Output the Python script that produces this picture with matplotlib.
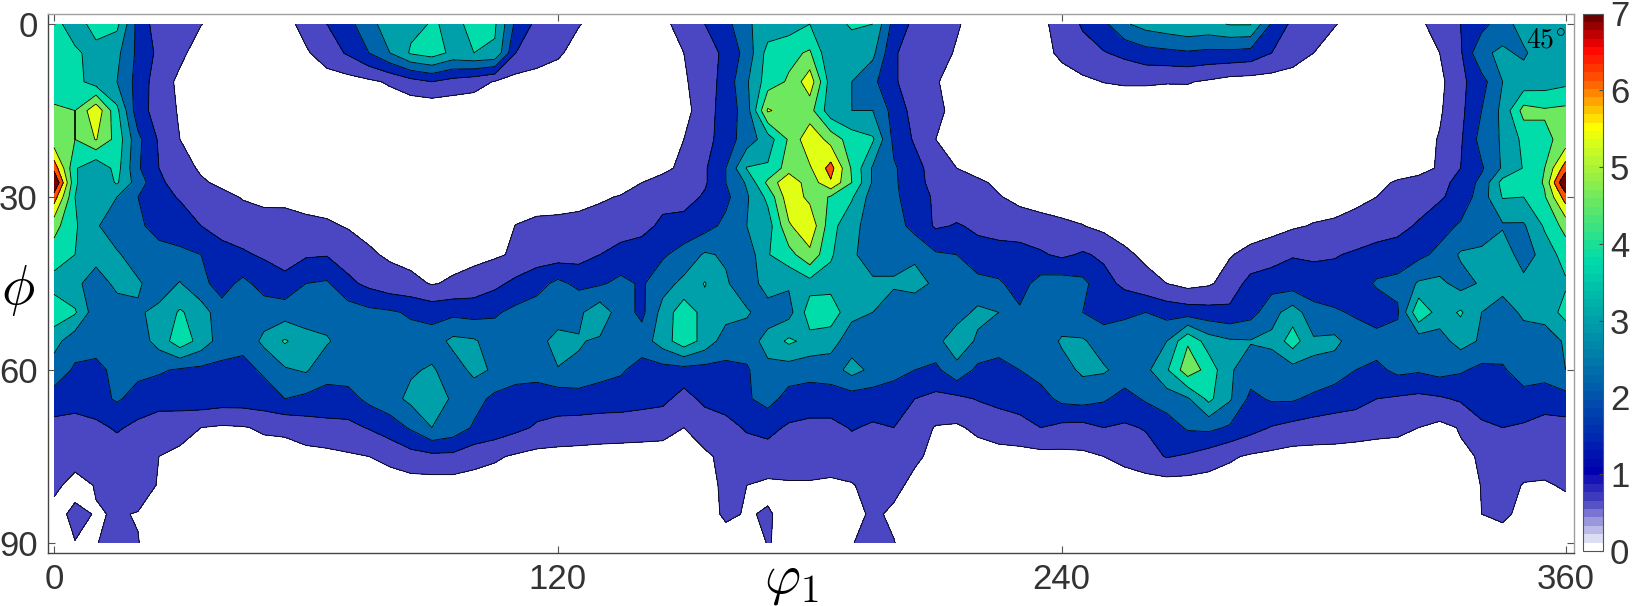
import numpy as np
import matplotlib
matplotlib.use('Agg')
import matplotlib.pyplot as plt
from matplotlib.cm import ScalarMappable
from matplotlib.colors import LinearSegmentedColormap, Normalize

# ODF section, values on a 5 degree grid
phi1 = list(range(0, 365, 5))
phi = [0, 5, 10, 15, 20, 25, 27.5, 30, 35, 40, 45, 50, 55, 60, 65, 70, 75, 80, 85, 90]

phi_00 = [4.2, 3.2, 4.3, 4.0, 1.9, 1.0, 0.85, 0.62, 0.4, 0.3, 0.3, 0.3,
          0.9, 1.4, 1.9, 2.8, 3.3, 3.6, 3.85, 3.7, 3.9, 3.9, 2.0, 1.2,
          0.9, 0.63, 0.4, 0.3, 0.3, 0.45, 0.85, 1.4, 1.9, 2.9, 3.3, 3.4,
          3.8, 3.5, 3.9, 3.8, 1.9, 1.2, 0.9, 0.65, 0.4, 0.3, 0.3, 0.45,
          0.85, 1.5, 2.0, 2.9, 3.3, 3.5, 3.7, 3.6, 3.85, 3.85, 2.1, 1.2,
          0.9, 0.63, 0.4, 0.3, 0.3, 0.45, 0.9, 1.4, 1.9, 2.7, 3.3, 3.4,
          3.7]
phi_05 = [4.0, 4.0, 3.4, 3.2, 2.0, 1.2, 0.75, 0.3, 0.25, 0.25, 0.25, 0.3,
          0.5, 1.0, 1.5, 2.2, 3.0, 3.9, 4.2, 3.6, 3.8, 3.7, 1.4, 1.0,
          0.7, 0.35, 0.25, 0.25, 0.25, 0.3, 0.6, 1.0, 1.6, 2.5, 4.1, 4.4,
          4.7, 3.1, 3.4, 3.2, 1.5, 1.0, 0.8, 0.55, 0.3, 0.25, 0.25, 0.35,
          0.75, 1.1, 1.35, 1.6, 1.9, 2.0, 2.1, 2.0, 2.0, 1.9, 1.4, 0.95,
          0.6, 0.35, 0.25, 0.25, 0.25, 0.3, 0.6, 1.3, 2.9, 3.1, 2.9, 3.4,
          3.5]
phi_10 = [3.9, 4.1, 3.4, 3.0, 1.9, 0.95, 0.45, 0.25, 0.25, 0.25, 0.25, 0.25,
          0.25, 0.25, 0.3, 0.45, 0.7, 1.1, 1.4, 1.1, 0.9, 0.55, 0.3, 0.25,
          0.25, 0.25, 0.25, 0.25, 0.25, 0.25, 0.5, 1.0, 1.7, 2.9, 4.2, 4.7,
          5.9, 3.4, 3.0, 2.4, 1.5, 1.0, 0.65, 0.35, 0.25, 0.25, 0.25, 0.25,
          0.3, 0.45, 0.62, 0.7, 0.7, 0.65, 0.65, 0.5, 0.3, 0.25, 0.25, 0.25,
          0.25, 0.25, 0.25, 0.25, 0.25, 0.25, 0.4, 1.2, 1.9, 3.0, 3.3, 3.4,
          3.6]
phi_15 = [4.8, 4.6, 6.0, 4.0, 1.7, 1.1, 0.5, 0.25, 0.2, 0.2, 0.2, 0.2,
          0.2, 0.2, 0.2, 0.2, 0.1, 0.05, 0.0, 0.05, 0.1, 0.2, 0.2, 0.2,
          0.2, 0.2, 0.2, 0.2, 0.2, 0.2, 0.3, 1.1, 1.7, 2.6, 5.5, 5.0,
          4.9, 3.3, 3.0, 3.0, 1.9, 1.1, 0.75, 0.4, 0.2, 0.2, 0.2, 0.2,
          0.2, 0.1, 0.05, 0.0, 0.0, 0.0, 0.1, 0.1, 0.2, 0.2, 0.2, 0.2,
          0.2, 0.2, 0.2, 0.2, 0.2, 0.2, 0.5, 1.2, 2.2, 3.2, 4.9, 4.7,
          4.8]
phi_20 = [4.9, 4.6, 5.45, 4.3, 2.4, 1.3, 0.6, 0.3, 0.2, 0.2, 0.2, 0.2,
          0.2, 0.2, 0.2, 0.2, 0.2, 0.2, 0.2, 0.2, 0.2, 0.2, 0.2, 0.2,
          0.2, 0.2, 0.2, 0.2, 0.2, 0.3, 0.6, 1.1, 1.8, 2.6, 3.4, 4.7,
          6.0, 5.1, 4.2, 3.9, 2.0, 1.3, 0.6, 0.3, 0.2, 0.2, 0.2, 0.2,
          0.2, 0.2, 0.2, 0.2, 0.2, 0.2, 0.2, 0.2, 0.2, 0.2, 0.2, 0.2,
          0.2, 0.2, 0.2, 0.2, 0.2, 0.3, 0.65, 1.3, 2.5, 3.1, 4.0, 4.4,
          4.9]
phi_25 = [6.7, 3.9, 3.1, 4.1, 2.3, 1.4, 0.9, 0.5, 0.25, 0.2, 0.2, 0.2,
          0.2, 0.2, 0.2, 0.2, 0.2, 0.2, 0.2, 0.2, 0.2, 0.2, 0.2, 0.2,
          0.2, 0.2, 0.2, 0.2, 0.25, 0.4, 0.8, 1.3, 2.2, 3.85, 3.9, 5.0,
          5.3, 6.5, 4.5, 2.9, 2.3, 1.7, 1.0, 0.6, 0.3, 0.2, 0.2, 0.2,
          0.2, 0.2, 0.2, 0.2, 0.2, 0.2, 0.2, 0.2, 0.2, 0.2, 0.2, 0.2,
          0.2, 0.2, 0.2, 0.2, 0.2, 0.3, 0.7, 1.4, 2.1, 3.1, 3.85, 4.6,
          6.6]
phi_275 = [8.0, 3.9, 3.1, 3.9, 2.6, 1.6, 0.95, 0.7, 0.45, 0.3, 0.2, 0.2,
           0.2, 0.2, 0.2, 0.2, 0.2, 0.2, 0.2, 0.2, 0.2, 0.2, 0.2, 0.2,
           0.2, 0.2, 0.2, 0.3, 0.6, 0.9, 1.0, 1.3, 2.2, 3.1, 4.8, 6.1,
           4.9, 6.1, 4.6, 2.9, 2.3, 1.8, 1.0, 0.8, 0.75, 0.45, 0.3, 0.2,
           0.2, 0.2, 0.2, 0.2, 0.2, 0.2, 0.2, 0.2, 0.2, 0.2, 0.2, 0.2,
           0.2, 0.2, 0.2, 0.4, 0.7, 0.9, 1.1, 1.7, 2.4, 4.1, 3.85, 4.7,
           8.0]
phi_30 = [6.6, 3.8, 3.4, 3.0, 2.2, 1.6, 1.35, 1.0, 0.8, 0.55, 0.4, 0.45,
          0.3, 0.3, 0.2, 0.2, 0.2, 0.2, 0.2, 0.2, 0.2, 0.2, 0.2, 0.2,
          0.2, 0.25, 0.5, 0.65, 0.9, 1.1, 1.1, 1.5, 2.0, 2.9, 4.0, 5.9,
          5.2, 4.5, 3.9, 2.6, 2.4, 1.7, 1.3, 1.0, 0.75, 0.65, 0.4, 0.25,
          0.2, 0.2, 0.2, 0.2, 0.2, 0.2, 0.2, 0.2, 0.2, 0.2, 0.2, 0.2,
          0.2, 0.2, 0.4, 0.6, 0.85, 1.0, 1.3, 1.7, 2.6, 3.85, 3.8, 4.5,
          6.6]
phi_35 = [4.9, 3.9, 3.1, 2.5, 2.3, 2.0, 1.7, 1.4, 1.1, 1.0, 0.95, 0.85,
          0.8, 0.7, 0.55, 0.4, 0.25, 0.2, 0.2, 0.2, 0.2, 0.25, 0.62, 0.8,
          0.85, 0.95, 0.95, 1.0, 1.1, 1.6, 1.7, 1.9, 2.4, 3.0, 3.4, 5.3,
          6.0, 4.1, 3.2, 2.7, 2.6, 1.9, 1.3, 1.45, 1.3, 1.1, 1.0, 0.9,
          0.75, 0.62, 0.4, 0.25, 0.2, 0.2, 0.2, 0.2, 0.2, 0.25, 0.35, 0.5,
          0.65, 0.75, 0.9, 1.0, 1.15, 1.5, 1.9, 2.3, 2.5, 2.9, 2.9, 3.9,
          4.9]
phi_40 = [4.2, 3.8, 3.3, 3.1, 2.6, 2.4, 2.4, 2.2, 1.7, 1.5, 1.3, 1.0,
          1.3, 1.35, 1.0, 0.7, 0.5, 0.35, 0.3, 0.35, 0.4, 0.5, 0.7, 1.0,
          1.0, 1.1, 1.4, 1.7, 1.9, 2.1, 2.5, 3.1, 2.9, 2.5, 3.75, 4.3,
          5.2, 3.9, 3.1, 2.7, 2.7, 2.9, 2.3, 2.2, 1.6, 1.7, 1.7, 1.5,
          1.25, 1.5, 1.25, 0.75, 0.45, 0.3, 0.3, 0.35, 0.55, 0.8, 1.0, 1.35,
          1.3, 1.35, 1.5, 1.7, 1.8, 2.0, 2.4, 3.1, 3.2, 3.6, 2.5, 3.4,
          4.1]
phi_45 = [3.5, 3.2, 2.6, 3.2, 3.1, 2.6, 3.05, 2.4, 1.9, 2.4, 1.9, 1.7,
          2.2, 2.3, 1.6, 1.2, 0.9, 0.8, 0.55, 0.7, 0.9, 1.2, 1.6, 1.9,
          2.4, 2.0, 2.1, 2.4, 2.1, 2.7, 3.2, 3.85, 3.1, 2.5, 3.4, 3.1,
          3.5, 3.5, 3.4, 3.1, 3.1, 3.2, 2.9, 2.4, 2.5, 2.3, 1.9, 2.5,
          2.6, 2.4, 1.7, 1.2, 0.85, 0.6, 0.35, 0.5, 0.9, 1.7, 1.9, 1.8,
          1.7, 1.7, 1.8, 2.3, 2.4, 3.1, 3.2, 2.7, 3.1, 3.4, 3.3, 3.4,
          3.7]
phi_50 = [4.3, 3.9, 2.5, 2.6, 2.9, 3.2, 3.9, 3.4, 2.5, 2.6, 2.6, 2.6,
          2.6, 2.6, 2.6, 2.4, 2.3, 2.1, 1.9, 2.0, 1.9, 2.1, 2.4, 2.6,
          2.4, 2.85, 3.5, 2.6, 2.0, 3.3, 4.3, 3.5, 3.3, 3.1, 2.6, 2.7,
          4.2, 4.3, 3.2, 3.0, 2.6, 2.6, 2.6, 2.7, 3.15, 3.0, 2.3, 2.6,
          2.5, 2.2, 1.9, 2.1, 2.2, 1.9, 1.8, 1.7, 1.6, 1.9, 2.7, 3.4,
          2.5, 2.3, 2.1, 1.7, 2.1, 4.5, 3.4, 3.9, 3.0, 2.5, 3.2, 3.3,
          4.1]
phi_55 = [3.3, 2.5, 2.5, 2.7, 2.6, 3.3, 4.3, 3.5, 2.6, 2.4, 3.2, 3.9,
          3.3, 3.1, 2.6, 2.5, 2.3, 2.5, 2.6, 3.2, 3.1, 2.6, 2.6, 2.6,
          3.4, 3.05, 2.9, 2.4, 2.6, 3.4, 4.3, 3.5, 2.6, 2.6, 3.3, 3.95,
          3.55, 3.3, 2.6, 2.5, 2.5, 2.4, 2.8, 3.4, 2.9, 2.6, 2.6, 2.5,
          3.1, 3.1, 2.6, 2.5, 2.6, 3.0, 4.5, 3.4, 3.1, 3.05, 3.2, 4.2,
          3.1, 3.2, 2.6, 2.6, 2.5, 2.5, 2.7, 3.3, 2.9, 2.6, 2.5, 2.6,
          3.1]
phi_60 = [2.6, 2.1, 2.0, 2.4, 2.4, 2.3, 2.1, 2.0, 2.0, 2.0, 2.3, 2.9,
          3.1, 2.4, 2.6, 2.5, 2.5, 2.9, 3.1, 2.6, 3.2, 2.9, 2.5, 2.5,
          2.95, 2.9, 2.5, 2.3, 1.9, 1.9, 1.9, 1.9, 2.0, 2.1, 2.8, 2.6,
          2.5, 2.6, 3.3, 2.8, 2.5, 2.2, 2.0, 2.8, 2.0, 1.9, 2.2, 2.5,
          2.7, 3.15, 3.1, 2.7, 2.8, 3.7, 5.1, 4.3, 3.1, 2.6, 2.5, 2.7,
          2.9, 2.6, 2.2, 2.0, 2.4, 2.3, 2.5, 2.3, 2.0, 2.1, 2.6, 2.6,
          3.0]
phi_65 = [1.9, 1.7, 1.9, 2.3, 1.9, 1.7, 1.8, 1.9, 1.8, 1.8, 1.9, 2.2,
          2.0, 2.0, 1.9, 2.4, 2.7, 3.2, 3.4, 2.9, 2.5, 2.0, 1.9, 1.8,
          1.7, 1.8, 1.8, 1.8, 1.7, 1.6, 1.1, 1.6, 1.8, 2.1, 2.5, 1.9,
          1.8, 1.8, 1.8, 1.8, 1.7, 1.4, 1.2, 1.2, 1.45, 1.6, 1.7, 1.9,
          2.4, 2.5, 2.3, 1.9, 2.3, 2.6, 2.9, 4.0, 3.1, 2.0, 2.3, 2.3,
          2.0, 1.8, 1.7, 1.4, 1.3, 1.2, 1.3, 1.5, 1.8, 2.1, 1.9, 1.7,
          1.9]
phi_70 = [1.1, 1.1, 1.2, 1.5, 1.2, 1.0, 0.85, 0.6, 0.5, 0.55, 0.7, 0.75,
          1.0, 1.1, 1.2, 1.45, 1.8, 2.3, 3.0, 2.7, 2.1, 1.9, 1.6, 1.3,
          1.2, 1.1, 1.0, 0.95, 0.9, 0.85, 0.6, 0.9, 1.1, 1.5, 1.6, 1.3,
          1.2, 1.2, 1.45, 1.3, 1.4, 0.95, 0.55, 0.5, 0.75, 1.0, 1.15, 1.4,
          1.2, 1.15, 1.4, 1.3, 1.45, 1.8, 2.3, 2.4, 2.1, 1.7, 1.35, 1.15,
          1.05, 1.0, 0.9, 0.8, 0.75, 0.6, 0.4, 0.65, 1.25, 1.4, 1.3, 1.15,
          1.1]
phi_75 = [1.0, 0.95, 1.0, 0.95, 0.9, 0.6, 0.45, 0.3, 0.3, 0.3, 0.3, 0.3,
          0.35, 0.4, 0.5, 0.6, 0.8, 1.1, 1.2, 1.2, 0.9, 0.7, 0.5, 0.35,
          0.3, 0.3, 0.3, 0.3, 0.3, 0.3, 0.3, 0.5, 0.75, 0.95, 1.1, 1.1,
          1.1, 1.0, 1.05, 1.0, 0.9, 0.7, 0.45, 0.3, 0.3, 0.3, 0.3, 0.35,
          0.4, 0.45, 0.6, 0.8, 1.1, 1.45, 1.3, 1.0, 0.7, 0.5, 0.4, 0.3,
          0.3, 0.3, 0.3, 0.3, 0.3, 0.3, 0.3, 0.5, 0.65, 1.0, 1.05, 1.05,
          1.0]
phi_80 = [0.8, 0.3, 0.65, 0.85, 0.9, 0.55, 0.35, 0.25, 0.25, 0.25, 0.25, 0.25,
          0.25, 0.25, 0.25, 0.25, 0.25, 0.25, 0.25, 0.25, 0.25, 0.25, 0.25, 0.25,
          0.25, 0.25, 0.25, 0.25, 0.25, 0.25, 0.3, 0.35, 0.75, 0.6, 0.45, 0.5,
          0.5, 0.45, 0.55, 0.85, 0.75, 0.45, 0.3, 0.25, 0.25, 0.25, 0.25, 0.25,
          0.25, 0.25, 0.25, 0.25, 0.25, 0.25, 0.25, 0.25, 0.25, 0.25, 0.25, 0.25,
          0.25, 0.25, 0.25, 0.25, 0.25, 0.25, 0.25, 0.3, 0.62, 0.95, 0.55, 0.5,
          0.7]
phi_85 = [0.3, 0.8, 0.55, 0.65, 0.57, 0.3, 0.25, 0.25, 0.25, 0.25, 0.25, 0.25,
          0.25, 0.25, 0.25, 0.25, 0.25, 0.25, 0.25, 0.25, 0.25, 0.25, 0.25, 0.25,
          0.25, 0.25, 0.25, 0.25, 0.25, 0.25, 0.25, 0.3, 0.72, 0.55, 0.66, 0.4,
          0.25, 0.25, 0.4, 0.7, 0.5, 0.25, 0.25, 0.25, 0.25, 0.25, 0.25, 0.25,
          0.25, 0.25, 0.25, 0.25, 0.25, 0.25, 0.25, 0.25, 0.25, 0.25, 0.25, 0.25,
          0.25, 0.25, 0.25, 0.25, 0.25, 0.25, 0.25, 0.3, 0.6, 0.75, 0.4, 0.25,
          0.25]
phi_90 = [0.3, 0.58, 0.55, 1.0, 0.62, 0.3, 0.25, 0.25, 0.25, 0.25, 0.25, 0.25,
          0.25, 0.25, 0.25, 0.25, 0.25, 0.25, 0.25, 0.25, 0.25, 0.25, 0.25, 0.25,
          0.25, 0.25, 0.25, 0.25, 0.25, 0.25, 0.25, 0.25, 0.3, 0.35, 0.62, 0.5,
          0.3, 0.3, 0.55, 1.0, 0.62, 0.3, 0.25, 0.25, 0.25, 0.25, 0.25, 0.25,
          0.25, 0.25, 0.25, 0.25, 0.25, 0.25, 0.25, 0.25, 0.25, 0.25, 0.25, 0.25,
          0.25, 0.25, 0.25, 0.25, 0.25, 0.25, 0.25, 0.25, 0.25, 0.25, 0.25, 0.25,
          0.25]

levels = [0.6, 1.4, 2.2, 3.0, 3.8, 4.6, 5.4, 6.2, 7.0, 9.0]
anchors = [(0.0, '#ffffff'), (0.6, '#4a45c1'), (1.0, '#0000af'), (1.4, '#0023af'),
           (2.2, '#0064aa'), (3.0, '#00a0aa'), (3.8, '#00dcaa'), (4.6, '#6ee85f'),
           (5.4, '#e1ff14'), (5.55, '#ffff00'), (6.2, '#ff5000'), (6.6, '#ff0000'),
           (7.0, '#6e0000')]

W, H = 1637.0, 606.0
plt.rcParams['font.family'] = ['Liberation Sans', 'DejaVu Sans']
plt.rcParams['mathtext.fontset'] = 'cm'


def make_cmap(n):
    return LinearSegmentedColormap.from_list(
        'odf', [(v / 7.0, c) for v, c in anchors], N=n)


def px_axes(fig, x0, y0, x1, y1):
    # box given in pixels from the top left corner
    return fig.add_axes([x0 / W, 1 - y1 / H, (x1 - x0) / W, (y1 - y0) / H])


def main():
    Z = np.array([phi_00, phi_05, phi_10, phi_15, phi_20, phi_25, phi_275, phi_30,
                  phi_35, phi_40, phi_45, phi_50, phi_55, phi_60, phi_65, phi_70,
                  phi_75, phi_80, phi_85, phi_90])
    fine = make_cmap(1024)
    colors = [fine(min(l, 7.0) / 7.0) for l in levels[:-1]]

    fig = plt.figure(figsize=(W / 100, H / 100), dpi=100)
    ax = px_axes(fig, 47.5, 14, 1574, 553)
    ax.contourf(phi1, phi, Z, levels=levels, colors=colors)
    ax.contour(phi1, phi, Z, levels=levels[:-1], colors='k', linewidths=0.6)
    ax.set_xlim(-1.55, 362)
    ax.set_ylim(91.75, -1.75)
    ax.set_xticks([0, 120, 240, 360])
    ax.set_yticks([0, 30, 60, 90])
    ax.tick_params(direction='in', length=5, width=0.8, top=True, right=True,
                   color='#555555', labelcolor='#333333', labelsize=25, pad=7)
    for side, col in (('left', '#444444'), ('bottom', '#444444'),
                      ('top', '#a0a0a0'), ('right', '#a0a0a0')):
        ax.spines[side].set_color(col)
        ax.spines[side].set_linewidth(1.0)
    fig.text(1546 / W, 1 - 40 / H, r'$45^{\circ}$', fontsize=20, ha='center',
             va='center', color='k')
    fig.text(791 / W, 1 - 581 / H, r'$\varphi_1$', fontsize=40, ha='center',
             va='center', color='k')
    fig.text(18 / W, 1 - 290 / H, r'$\phi$', fontsize=40, ha='center',
             va='center', color='k')

    cax = px_axes(fig, 1583, 13.5, 1603, 551)
    sm = ScalarMappable(norm=Normalize(0, 7), cmap=make_cmap(64))
    cb = fig.colorbar(sm, cax=cax)
    cb.set_ticks(range(8))
    cax.tick_params(direction='in', length=3, width=0.8, color='#444444',
                    labelcolor='#333333', labelsize=25, pad=5)
    cb.outline.set_edgecolor('#555555')
    cb.outline.set_linewidth(0.8)

    fig.savefig('out.png', dpi=100)


if __name__ == '__main__':
    main()
